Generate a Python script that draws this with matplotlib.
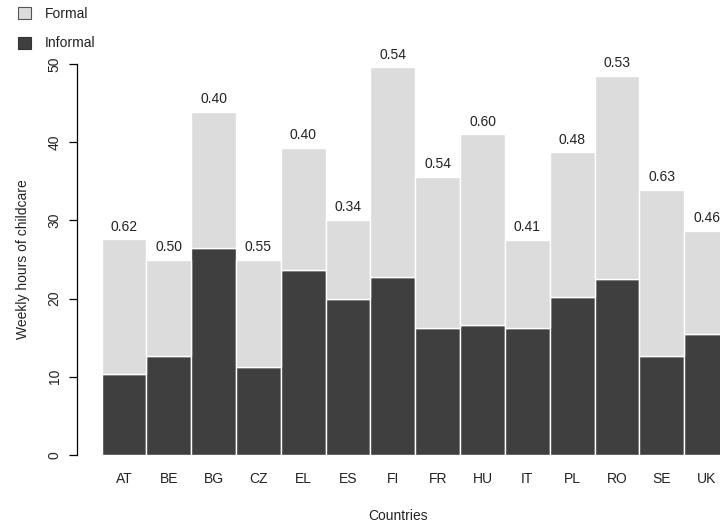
import matplotlib
matplotlib.use("Agg")
import matplotlib.pyplot as plt
from matplotlib.patches import Patch

plt.rcParams['font.family'] = ['Liberation Sans', 'DejaVu Sans']

# Weekly hours of childcare by country, split into informal (bottom) and formal (top)
countries = ['AT', 'BE', 'BG', 'CZ', 'EL', 'ES', 'FI', 'FR', 'HU', 'IT', 'PL', 'RO', 'SE', 'UK']
informal = [10.4, 12.6, 26.5, 11.2, 23.6, 20.0, 22.7, 16.2, 16.6, 16.3, 20.2, 22.5, 12.6, 15.5]
total = [27.6, 25.0, 43.9, 25.0, 39.3, 30.1, 49.6, 35.6, 41.0, 27.5, 38.7, 48.5, 33.9, 28.7]
share_labels = ['0.62', '0.50', '0.40', '0.55', '0.40', '0.34', '0.54',
                '0.54', '0.60', '0.41', '0.48', '0.53', '0.63', '0.46']

formal = [t - i for t, i in zip(total, informal)]

dark = '#3f3f3f'
light = '#dcdcdc'
txt = '#222222'
fs = 10

W, H = 720, 524
fig = plt.figure(figsize=(W / 100, H / 100), dpi=100)
ax = fig.add_axes([77 / W, 69 / H, (W - 77) / W, 391 / H])

x = list(range(len(countries)))
ax.bar(x, informal, width=1.0, color=dark, edgecolor='white', linewidth=1.0)
ax.bar(x, formal, bottom=informal, width=1.0, color=light, edgecolor='white', linewidth=1.0)

for xi, t, lab in zip(x, total, share_labels):
    ax.annotate(lab, (xi, t), xytext=(0, 4), textcoords='offset points',
                ha='center', va='bottom', fontsize=fs, color=txt, annotation_clip=False)

ax.set_xlim(-1.05, 13.30)
ax.set_ylim(0, 50)
ax.set_yticks([0, 10, 20, 30, 40, 50])
ax.set_xticks(x)
ax.set_xticklabels(countries)
ax.tick_params(axis='x', length=0, pad=12, labelsize=fs, labelcolor=txt)
ax.tick_params(axis='y', length=6, width=0.9, pad=5, labelsize=fs, labelcolor=txt)
for lab in ax.get_yticklabels():
    lab.set_rotation(90)
    lab.set_va('center')

for s in ['top', 'right', 'bottom']:
    ax.spines[s].set_visible(False)
ax.spines['left'].set_linewidth(0.9)
ax.spines['left'].set_bounds(0, 50)

ax.set_xlabel('Countries', fontsize=fs, color=txt, labelpad=17)
ax.set_ylabel('Weekly hours of childcare', fontsize=fs, color=txt, labelpad=13)

handles = [Patch(facecolor=light, edgecolor='#555555', linewidth=0.8, label='Formal'),
           Patch(facecolor=dark, edgecolor='#333333', linewidth=0.8, label='Informal')]
fig.legend(handles=handles, loc='upper left', bbox_to_anchor=(5 / W, 1 + 6 / H),
           frameon=False, fontsize=fs, handlelength=0.95, handleheight=1.0,
           handletextpad=1.0, labelspacing=1.15, labelcolor=txt)

fig.savefig('out.png', dpi=100)
